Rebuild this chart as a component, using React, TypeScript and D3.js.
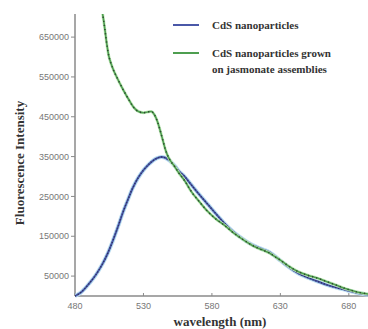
import * as d3 from 'd3'

const blueWl = [480, 484, 487, 491, 495, 500, 504, 508, 512, 515, 519, 522, 526, 530, 534, 537, 540, 543, 546, 549, 553, 556, 560, 565, 571, 577, 583, 589, 596, 603, 608, 613, 618, 622, 626, 630, 636, 642, 650, 657, 664, 671, 678, 686, 694]
const blueVal = [0, 8000, 18000, 34000, 52000, 80000, 108000, 142000, 180000, 210000, 245000, 270000, 296000, 316000, 331000, 340000, 346000, 349000, 347000, 340000, 326000, 313000, 300000, 279000, 254000, 230000, 206000, 183000, 160000, 142000, 131000, 123000, 116000, 110000, 100000, 89000, 73000, 59000, 46000, 37000, 28000, 21000, 15000, 8000, 3000]

const greenWl = [500, 501, 502, 503, 505, 508, 510, 515, 520, 523, 526, 530, 533, 536, 538, 540, 542, 544, 546, 548, 550, 553, 556, 560, 565, 571, 577, 583, 589, 596, 603, 608, 613, 618, 622, 626, 630, 636, 642, 650, 657, 664, 671, 678, 686, 694]
const greenVal = [712000, 690000, 665000, 638000, 598000, 568000, 553000, 519000, 489000, 473000, 464000, 460000, 462000, 463000, 455000, 440000, 418000, 393000, 368000, 350000, 338000, 324000, 308000, 290000, 262000, 236000, 212000, 193000, 178000, 158000, 141000, 130000, 121000, 114000, 108000, 99000, 90000, 75000, 63000, 52000, 45000, 36000, 27000, 18000, 10000, 5000]

const xTicks = [480, 530, 580, 630, 680]
const yTicks = [50000, 150000, 250000, 350000, 450000, 550000, 650000]

const legendItems = [
  { lines: ['CdS nanoparticles'], color: '#4a58a8' },
  { lines: ['CdS nanoparticles grown', 'on jasmonate assemblies'], color: '#4e9e50' },
]

export default function App() {
  const width = 368
  const height = 329
  const left = 75
  const top = 14
  const bottom = 296

  const x = d3.scaleLinear().domain([480, 694]).range([left, width])
  const y = d3.scaleLinear().domain([0, 708000]).range([bottom, top])

  const line = d3.line<[number, number]>()
    .x(d => x(d[0]))
    .y(d => y(d[1]))
    .curve(d3.curveCatmullRom.alpha(0.5))

  const bluePath = line(blueWl.map((w, i) => [w, blueVal[i]])) || ''
  const greenPath = line(greenWl.map((w, i) => [w, greenVal[i]])) || ''

  const tickFont = 'Liberation Sans, Arial, sans-serif'
  const serif = 'Liberation Serif, Times New Roman, serif'

  return (
    <svg width={width} height={height} style={{ position: 'absolute', left: 0, top: 0, background: '#fff' }}>
      <defs>
        <clipPath id="plot">
          <rect x={left} y={top} width={width - left} height={bottom - top + 2} />
        </clipPath>
      </defs>

      {/* axes */}
      <line x1={left} x2={left} y1={top} y2={bottom} stroke="#8a8a8a" strokeWidth={1.5} />
      <line x1={left} x2={width} y1={bottom} y2={bottom} stroke="#8a8a8a" strokeWidth={1.5} />

      {yTicks.map(t => (
        <g key={t}>
          <line x1={left - 4} x2={left} y1={y(t)} y2={y(t)} stroke="#8a8a8a" />
          <text x={left - 6} y={y(t)} dy="0.35em" textAnchor="end" fontSize={9} fill="#777" fontFamily={tickFont}>
            {t}
          </text>
        </g>
      ))}

      {xTicks.map(t => (
        <g key={t}>
          <line x1={x(t)} x2={x(t)} y1={bottom - 3} y2={bottom} stroke="#8a8a8a" />
          <text x={x(t)} y={bottom + 13} textAnchor="middle" fontSize={9} fill="#777" fontFamily={tickFont}>
            {t}
          </text>
        </g>
      ))}

      <g clipPath="url(#plot)" fill="none">
        <path d={bluePath} stroke="#b8dcf0" strokeWidth={4} />
        <path d={bluePath} stroke="#4a58a8" strokeWidth={2} />
        <path d={bluePath} stroke="#2a2f5a" strokeWidth={1.4} strokeDasharray="1 2" />
        <path d={greenPath} stroke="#c8ecc0" strokeWidth={3} />
        <path d={greenPath} stroke="#4e9e50" strokeWidth={1.6} />
        <path d={greenPath} stroke="#2e4a30" strokeWidth={1.6} strokeDasharray="1.2 3" />
      </g>

      {/* legend */}
      {legendItems.map((item, i) => {
        const ly = 25 + i * 28
        return (
          <g key={i}>
            <line x1={173} x2={199} y1={ly} y2={ly} stroke={item.color} strokeWidth={2} />
            {item.lines.map((s, j) => (
              <text key={j} x={212} y={ly + 4 + j * 16} fontSize={11} fontWeight="bold" fill="#333" fontFamily={serif}>
                {s}
              </text>
            ))}
          </g>
        )
      })}

      <text
        transform={`translate(24,${(top + bottom) / 2 + 8}) rotate(-90)`}
        textAnchor="middle"
        fontSize={13}
        fontWeight="bold"
        fill="#333"
        fontFamily={serif}
      >
        Fluorescence Intensity
      </text>
      <text x={220} y={326} textAnchor="middle" fontSize={13} fontWeight="bold" fill="#333" fontFamily={serif}>
        wavelength (nm)
      </text>
    </svg>
  )
}
